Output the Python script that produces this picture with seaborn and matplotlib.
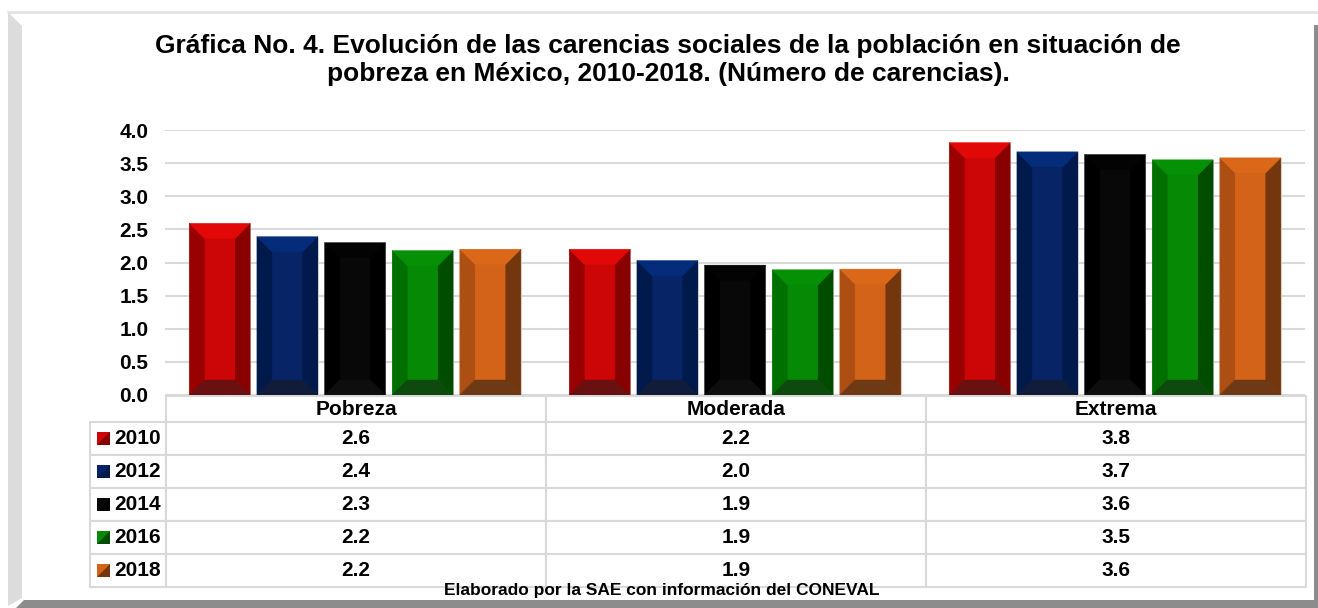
import pandas as pd
import numpy as np
import matplotlib
matplotlib.use("Agg")
import matplotlib.pyplot as plt
from matplotlib.patches import Polygon
from matplotlib.lines import Line2D
import seaborn as sns

# Datos
categorias = ["Pobreza", "Moderada", "Extrema"]
anios = ["2010", "2012", "2014", "2016", "2018"]
v2010 = [2.59, 2.20, 3.81]
v2012 = [2.39, 2.03, 3.67]
v2014 = [2.30, 1.96, 3.63]
v2016 = [2.18, 1.89, 3.55]
v2018 = [2.20, 1.90, 3.58]
# Valores redondeados mostrados en la tabla
t2010 = ["2.6", "2.2", "3.8"]
t2012 = ["2.4", "2.0", "3.7"]
t2014 = ["2.3", "1.9", "3.6"]
t2016 = ["2.2", "1.9", "3.5"]
t2018 = ["2.2", "1.9", "3.6"]

titulo = ("Gráfica No. 4. Evolución de las carencias sociales de la población en situación de\n"
          "pobreza en México, 2010-2018. (Número de carencias).")
fuente = "Elaborado por la SAE con información del CONEVAL"

# colores: principal, izquierda, derecha, arriba, abajo
colores = {
    "2010": ["#CC0606", "#990000", "#880000", "#E20808", "#6B1010"],
    "2012": ["#062466", "#001A4C", "#001A4C", "#052C7A", "#111C3A"],
    "2014": ["#080808", "#000000", "#000000", "#030303", "#0E0E0E"],
    "2016": ["#068A06", "#007000", "#004D00", "#059005", "#0E4A0E"],
    "2018": ["#D4631A", "#AD4F12", "#73360D", "#DA6818", "#6E3A15"],
}

valores = [v2010, v2012, v2014, v2016, v2018]
textos = [t2010, t2012, t2014, t2016, t2018]
df = pd.DataFrame({
    "categoria": categorias * len(anios),
    "anio": np.repeat(anios, len(categorias)),
    "valor": np.concatenate(valores),
})

sns.set_style("white")
plt.rcParams["font.family"] = ["Liberation Sans", "DejaVu Sans"]
plt.rcParams["font.weight"] = "bold"
plt.rcParams["text.color"] = "black"
plt.rcParams["ytick.color"] = "black"

W, H = 1318, 608
fig = plt.figure(figsize=(W / 100, H / 100), dpi=100)
ax = fig.add_axes([165 / W, 1 - 395 / H, 1140 / W, 265 / H])

sns.barplot(data=df, x="categoria", y="valor", hue="anio", order=categorias,
            hue_order=anios, palette=[colores[a][0] for a in anios],
            saturation=1, width=0.89, gap=0.1, ax=ax, legend=False, zorder=3)

ax.set_ylim(0, 4)
ax.set_xlim(-0.5, 2.5)
ax.set_yticks(np.arange(0, 4.01, 0.5))
ax.set_yticklabels([f"{t:.1f}" for t in np.arange(0, 4.01, 0.5)],
                   fontsize=15, fontweight="bold")
ax.tick_params(axis="y", length=0, pad=12)
ax.set_xticks([])
ax.set_xlabel("")
ax.set_ylabel("")
ax.grid(axis="y", color="#D9D9D9", lw=1.5, zorder=0)
for s in ax.spines.values():
    s.set_visible(False)

# efecto biselado de las barras
px_x = 1140 / 3.0
px_y = 265 / 4.0
for yi, cont in enumerate(ax.containers):
    c = colores[anios[yi]]
    for p in cont:
        x0, w, h = p.get_x(), p.get_width(), p.get_height()
        x1 = x0 + w
        dx = 15 / px_x
        dy = 15 / px_y
        partes = [
            ([(x0, 0), (x0 + dx, dy), (x0 + dx, h - dy), (x0, h)], c[1]),
            ([(x1, 0), (x1 - dx, dy), (x1 - dx, h - dy), (x1, h)], c[2]),
            ([(x0, h), (x1, h), (x1 - dx, h - dy), (x0 + dx, h - dy)], c[3]),
            ([(x0, 0), (x1, 0), (x1 - dx, dy), (x0 + dx, dy)], c[4]),
        ]
        for pts, col in partes:
            ax.add_patch(Polygon(pts, closed=True, facecolor=col,
                                 edgecolor=col, lw=0.3, zorder=4))
        p.set_edgecolor("#D0D0D0")
        p.set_linewidth(0.8)

# tabla de datos
cell_text = [[a] + t for a, t in zip(anios, textos)]
tabla = ax.table(cellText=cell_text, colLabels=[""] + categorias,
                 colWidths=[76, 380, 380, 380], cellLoc="center",
                 bbox=[(90 - 165) / 1140, (395 - 587) / 265,
                       (1306 - 90) / 1140, (587 - 396) / 265])
tabla.auto_set_font_size(False)
tabla.set_fontsize(15)
for (r, cc), cell in tabla.get_celld().items():
    cell.set_edgecolor("#D9D9D9")
    cell.set_linewidth(1.5)
    cell.get_text().set_fontweight("bold")
    cell.get_text().set_color("black")
    cell.set_height(26 if r == 0 else 33)
    if cc == 0:
        cell.get_text().set_horizontalalignment("right")
        cell._loc = "right"
        cell.PAD = 0.07
    if r == 0 and cc == 0:
        cell.visible_edges = ""

fig.text(668 / W, 1 - 60 / H, titulo, ha="center", va="center",
         fontsize=19, fontweight="bold", linespacing=1.2)
fig.text(662 / W, 1 - 591 / H, fuente, ha="center", va="center",
         fontsize=12.5, fontweight="bold")

# marco
def fpoly(pts, color):
    fig.add_artist(Polygon([(x / W, 1 - y / H) for x, y in pts], closed=True,
                           transform=fig.transFigure, facecolor=color,
                           edgecolor="none"))

fig.add_artist(Line2D([8 / W, 1], [1 - 12 / H] * 2, color="#E3E3E3", lw=2,
                      transform=fig.transFigure))
fpoly([(8, 12), (22, 26), (22, 598), (8, 606)], "#DCDCDC")
fpoly([(16, 608), (24, 600), (1318, 600), (1318, 608)], "#8C8C8C")
fpoly([(1314, 25), (1318, 25), (1318, 600), (1314, 600)], "#8C8C8C")

# marcadores de leyenda en la tabla
fig.canvas.draw()
renderer = fig.canvas.get_renderer()
for i, a in enumerate(anios):
    bb = tabla[i + 1, 0].get_window_extent(renderer)
    c = colores[a]
    s = 13
    x0 = bb.x0 + 7
    y0 = (bb.y0 + bb.y1) / 2 - s / 2
    cuad = [(x0, y0), (x0 + s, y0), (x0 + s, y0 + s), (x0, y0 + s)]
    tri = [(x0, y0), (x0 + s, y0), (x0 + s, y0 + s)]
    for pts, col in [(cuad, c[0]), (tri, c[2])]:
        fig.add_artist(Polygon([(x / W, y / H) for x, y in pts], closed=True,
                               transform=fig.transFigure, facecolor=col,
                               edgecolor="none"))

fig.savefig("out.png", dpi=100)
